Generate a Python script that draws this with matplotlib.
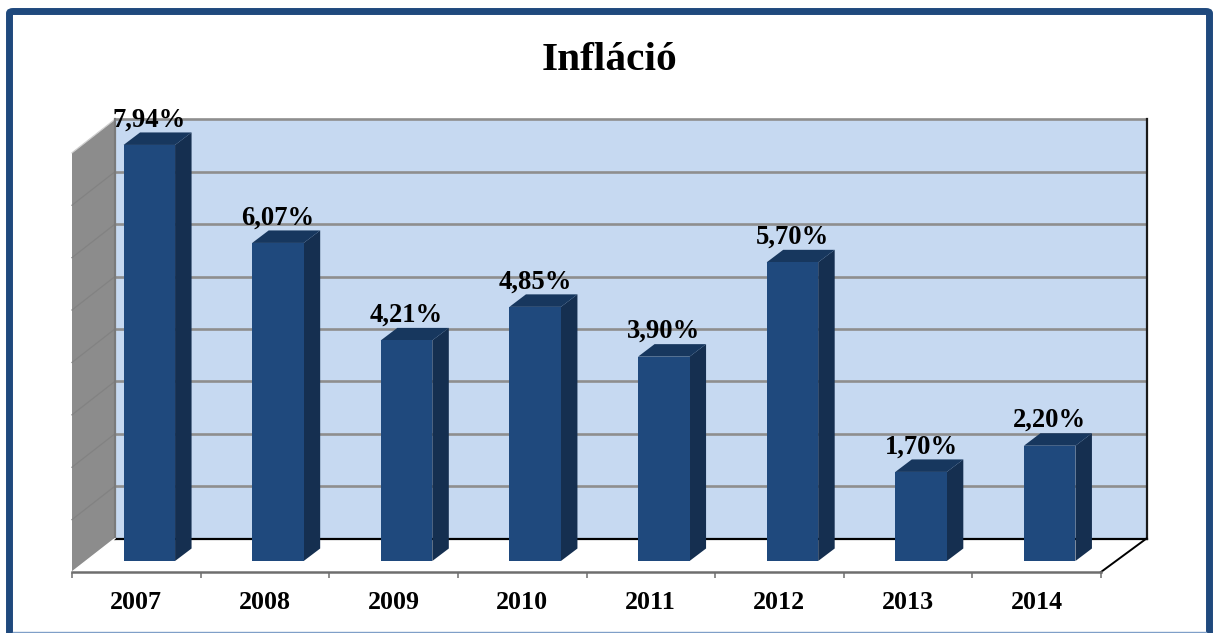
import matplotlib
matplotlib.use("Agg")
import matplotlib.pyplot as plt
from matplotlib.patches import Polygon, FancyBboxPatch
from matplotlib.lines import Line2D
import numpy as np

plt.rcParams['font.family'] = ['Liberation Serif', 'DejaVu Serif']

title = "Infláció"
years = ["2007", "2008", "2009", "2010", "2011", "2012", "2013", "2014"]
inflation = [7.94, 6.07, 4.21, 4.85, 3.90, 5.70, 1.70, 2.20]
labels = ["7,94%", "6,07%", "4,21%", "4,85%", "3,90%", "5,70%", "1,70%", "2,20%"]

W, H = 1217, 633
fig = plt.figure(figsize=(W / 100, H / 100), dpi=100, facecolor="white")

def fx(px):
    return px / W

def fy(py):
    return 1 - py / H

# Plot box: front plane of the pseudo-3D chart
L, R, B = 72, 1101, 572
PX_PER_UNIT = 52.4
ymax = 8
T = B - ymax * PX_PER_UNIT
ax = fig.add_axes([fx(L), fy(B), fx(R) - fx(L), fy(T) - fy(B)])
ax.set_xlim(0, len(years))
ax.set_ylim(0, ymax)
ax.patch.set_alpha(0)
PX_PER_CAT = (R - L) / len(years)

def dxu(px):
    return px / PX_PER_CAT

def dyu(px):
    return px / PX_PER_UNIT

wall_dx_l, wall_dx_r, wall_dy = dxu(43), dxu(45.5), dyu(33.5)
n = len(years)
gray = "#8c8c8c"

# back wall
ax.add_patch(Polygon([(wall_dx_l, wall_dy), (n + wall_dx_r, wall_dy),
                      (n + wall_dx_r, ymax + wall_dy), (wall_dx_l, ymax + wall_dy)],
                     closed=True, fc="#c6d9f1", ec="none", clip_on=False, zorder=1))
# side wall
ax.add_patch(Polygon([(0, 0), (wall_dx_l, wall_dy), (wall_dx_l, ymax + wall_dy), (0, ymax)],
                     closed=True, fc=gray, ec="none", clip_on=False, zorder=1))

# gridlines
for g in range(1, ymax + 1):
    ax.plot([wall_dx_l, n + wall_dx_r], [g + wall_dy] * 2, color="#8e8e8e", lw=1.9,
            clip_on=False, zorder=2, solid_capstyle="butt")
    ax.plot([0, wall_dx_l], [g, g + wall_dy], color="#d0d0d0" if g == ymax else "#828282",
            lw=0.9, clip_on=False, zorder=2)
ax.plot([wall_dx_l, wall_dx_l], [wall_dy, ymax + wall_dy], color="#7a7a7a", lw=1.6,
        clip_on=False, zorder=2)
# black edges of wall and floor
ax.plot([wall_dx_l, n + wall_dx_r], [wall_dy, wall_dy], color="black", lw=1.6,
        clip_on=False, zorder=2)
ax.plot([n + wall_dx_r, n + wall_dx_r], [wall_dy, ymax + wall_dy], color="#1a1a1a", lw=1.6,
        clip_on=False, zorder=2)
ax.plot([n, n + wall_dx_r], [0, wall_dy], color="black", lw=1.4, clip_on=False, zorder=2)
ax.plot([0, wall_dx_l], [0, wall_dy], color="white", lw=1.0, clip_on=False, zorder=2)

# bars
x = np.arange(n) + 0.5
bar_w = 51.5 / PX_PER_CAT
off_x, off_y = dxu(13.0), dyu(11)
dep_x, dep_y = dxu(16.5), dyu(12.5)
ax.bar(x + off_x, inflation, width=bar_w, bottom=off_y, color="#1f497d",
       edgecolor="none", zorder=4, clip_on=False)
for xi, v, lab in zip(x + off_x, inflation, labels):
    x0, x1 = xi - bar_w / 2, xi + bar_w / 2
    y0, y1 = off_y, off_y + v
    ax.add_patch(Polygon([(x1, y0), (x1 + dep_x, y0 + dep_y), (x1 + dep_x, y1 + dep_y), (x1, y1)],
                         closed=True, fc="#152f50", ec="none", clip_on=False, zorder=3))
    ax.add_patch(Polygon([(x0, y1), (x0 + dep_x, y1 + dep_y), (x1 + dep_x, y1 + dep_y), (x1, y1)],
                         closed=True, fc="#17375e", ec="none", clip_on=False, zorder=3))
    ax.annotate(lab, xy=(xi, y1), xytext=(0, 13.4), textcoords="offset points", ha="center",
                va="baseline", fontsize=19.2, fontweight="bold", color="black",
                annotation_clip=False, zorder=6)

# axes and ticks
for s in ("top", "left", "right"):
    ax.spines[s].set_visible(False)
ax.spines["bottom"].set_color("#6e6e6e")
ax.spines["bottom"].set_linewidth(1.8)
ax.set_yticks([])
ax.set_xticks(np.arange(n + 1))
ax.set_xticklabels([])
ax.tick_params(axis="x", which="major", length=4.6, width=1.4, color="#8c8c8c")
ax.set_xticks(x, minor=True)
ax.set_xticklabels(years, minor=True, fontsize=18.7, fontweight="bold", color="black")
ax.tick_params(axis="x", which="minor", length=0, pad=13.5)

# title
fig.text(fx(609.5), fy(61), title, ha="center", va="center", fontsize=29.8,
         fontweight="bold", color="black")

# outer frame, cut by the lower picture edge
frame = FancyBboxPatch((fx(9.5), fy(645)), fx(1200), fy(11.5) - fy(645),
                       boxstyle="round,pad=0,rounding_size=0.003",
                       transform=fig.transFigure, fc="none", ec="#1f497d", lw=5.0,
                       mutation_aspect=1)
fig.add_artist(frame)
fig.add_artist(Line2D([fx(13), fx(1206)], [fy(632)] * 2, color="#7f9fc8", lw=1.0,
                      transform=fig.transFigure))

fig.savefig("out.png", dpi=100, facecolor="white")
